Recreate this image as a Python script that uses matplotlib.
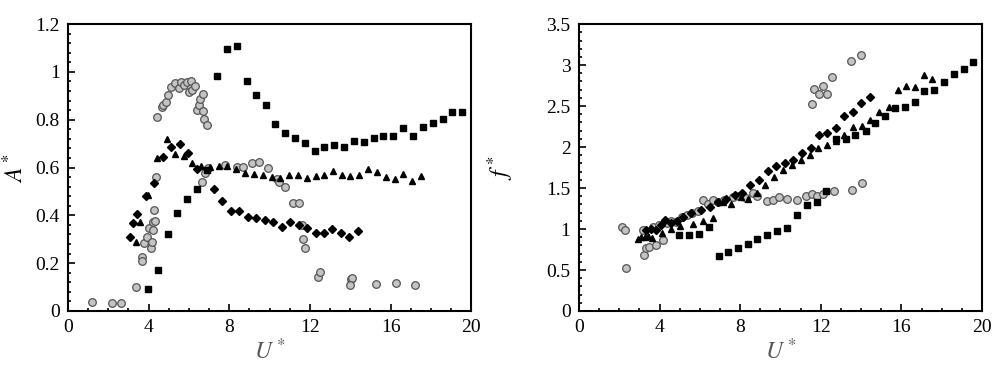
import matplotlib
matplotlib.use("Agg")
import matplotlib.pyplot as plt
from matplotlib.ticker import MultipleLocator, FuncFormatter

plt.rcParams["font.family"] = ["Liberation Serif", "DejaVu Serif"]
plt.rcParams["mathtext.fontset"] = "stix"

# ---- amplitude A* vs U* ----
sq_u = [3.98, 4.47, 4.94, 5.43, 5.92, 6.40, 6.88, 7.37, 7.87, 8.37, 8.86, 9.33, 9.81,
        10.29, 10.77, 11.25, 11.75, 12.23, 12.71, 13.21, 13.69, 14.18, 14.66, 15.16,
        15.64, 16.14, 16.62, 17.12, 17.60, 18.09, 18.58, 19.07, 19.54]
sq_a = [0.092, 0.171, 0.32, 0.41, 0.47, 0.51, 0.59, 0.983, 1.094, 1.108, 0.964, 0.905,
        0.863, 0.782, 0.744, 0.725, 0.702, 0.669, 0.686, 0.694, 0.688, 0.711, 0.707,
        0.723, 0.732, 0.732, 0.767, 0.733, 0.771, 0.785, 0.804, 0.832, 0.832]

tr_u = [3.36, 3.57, 3.95, 4.42, 4.89, 5.31, 5.76, 6.17, 6.60, 7.05, 7.48, 7.87, 8.34,
        8.78, 9.23, 9.66, 10.10, 10.52, 10.98, 11.41, 11.85, 12.28, 12.70, 13.14,
        13.58, 14.00, 14.44, 14.87, 15.32, 15.75, 16.20, 16.64, 17.07, 17.50]
tr_a = [0.289, 0.374, 0.485, 0.641, 0.719, 0.657, 0.65, 0.62, 0.607, 0.603, 0.608,
        0.607, 0.593, 0.579, 0.572, 0.568, 0.562, 0.558, 0.57, 0.57, 0.556, 0.565,
        0.568, 0.587, 0.57, 0.565, 0.57, 0.594, 0.582, 0.562, 0.552, 0.572, 0.544, 0.565]

di_u = [3.05, 3.24, 3.44, 3.86, 4.29, 4.70, 5.13, 5.55, 5.96, 6.39, 7.25, 7.66, 8.07,
        8.50, 8.92, 9.35, 9.76, 10.19, 10.60, 11.03, 11.45, 11.88, 12.29, 12.70,
        13.12, 13.55, 13.96, 14.39]
di_a = [0.31, 0.366, 0.407, 0.48, 0.534, 0.646, 0.687, 0.70, 0.66, 0.592, 0.509,
        0.462, 0.417, 0.417, 0.392, 0.389, 0.381, 0.374, 0.353, 0.374, 0.358, 0.349,
        0.328, 0.328, 0.343, 0.328, 0.311, 0.333]

ci_u = [1.21, 2.20, 2.62, 3.35, 3.68, 3.65, 3.78, 3.94, 4.01, 4.11, 4.19, 4.21, 4.24,
        4.27, 4.32, 4.34, 4.39, 4.64, 4.69, 4.84, 4.97, 5.12, 5.32, 5.52, 5.62, 5.77,
        5.88, 6.01, 6.08, 6.16, 6.31, 6.38, 6.48, 6.56, 6.68, 6.69, 6.74, 6.88, 6.66,
        6.79, 6.96, 7.80, 8.40, 8.70, 9.13, 9.46, 9.91, 10.36, 10.49, 10.74, 11.15,
        11.45, 11.62, 11.65, 11.78, 12.38, 12.51, 14.02, 14.08, 14.00, 15.28, 16.27,
        17.20]
ci_a = [0.038, 0.032, 0.032, 0.099, 0.227, 0.209, 0.283, 0.308, 0.348, 0.262, 0.29,
        0.374, 0.339, 0.422, 0.376, 0.562, 0.81, 0.852, 0.861, 0.875, 0.902, 0.935,
        0.952, 0.931, 0.959, 0.945, 0.959, 0.917, 0.963, 0.924, 0.941, 0.84, 0.861,
        0.886, 0.906, 0.836, 0.801, 0.778, 0.541, 0.576, 0.597, 0.612, 0.603, 0.603,
        0.62, 0.622, 0.597, 0.552, 0.541, 0.517, 0.45, 0.45, 0.36, 0.30, 0.262, 0.144,
        0.162, 0.132, 0.139, 0.109, 0.111, 0.116, 0.107]

# ---- frequency f* vs U* ----
fsq_u = [4.97, 5.47, 5.95, 6.43, 6.93, 7.41, 7.89, 8.37, 8.85, 9.35, 9.83, 10.32,
         10.82, 11.30, 11.80, 12.26, 12.76, 13.24, 13.72, 14.22, 14.70, 15.19, 15.68,
         16.17, 16.65, 17.13, 17.61, 18.10, 18.59, 19.09, 19.55]
fsq_f = [0.927, 0.931, 0.939, 1.028, 0.675, 0.724, 0.772, 0.821, 0.874, 0.923, 0.972,
         1.016, 1.171, 1.293, 1.325, 1.467, 2.093, 2.093, 2.15, 2.2, 2.297, 2.382,
         2.48, 2.484, 2.553, 2.683, 2.695, 2.797, 2.89, 2.951, 3.037]

ftr_u = [2.95, 3.10, 3.26, 3.45, 3.62, 4.10, 4.55, 5.00, 5.67, 6.15, 6.63, 7.16, 7.55,
         8.02, 8.40, 8.82, 9.25, 9.68, 10.14, 10.58, 11.00, 11.47, 11.88, 12.29, 12.73,
         13.16, 13.62, 14.03, 14.45, 14.91, 15.38, 15.81, 16.24, 16.67, 17.10, 17.53]
ftr_f = [0.88, 0.90, 0.898, 0.91, 0.89, 0.95, 1.0, 1.04, 1.061, 1.10, 1.13, 1.33, 1.30,
         1.394, 1.37, 1.443, 1.537, 1.638, 1.72, 1.78, 1.841, 1.902, 1.984, 2.024,
         2.08, 2.146, 2.248, 2.256, 2.329, 2.431, 2.484, 2.695, 2.744, 2.728, 2.878,
         2.829]

fdi_u = [3.35, 3.60, 3.84, 4.05, 4.26, 4.55, 4.85, 5.17, 5.58, 6.08, 6.50, 6.91, 7.32,
         7.74, 8.07, 8.48, 8.95, 9.38, 9.78, 10.21, 10.64, 11.07, 11.50, 11.91, 12.31,
         12.76, 13.17, 13.59, 14.00, 14.42]
fdi_f = [0.988, 1.0, 0.988, 1.05, 1.11, 1.07, 1.10, 1.15, 1.191, 1.232, 1.272, 1.333,
         1.362, 1.415, 1.443, 1.537, 1.598, 1.711, 1.768, 1.801, 1.841, 1.923, 1.992,
         2.146, 2.175, 2.236, 2.378, 2.431, 2.533, 2.614]

fci_u = [2.15, 2.27, 2.35, 3.18, 3.25, 3.35, 3.50, 3.68, 3.84, 3.95, 4.18, 4.35, 4.55,
         4.80, 5.09, 5.35, 5.60, 5.90, 6.16, 6.40, 6.66, 6.90, 7.20, 7.66, 7.95, 8.30,
         8.65, 8.85, 9.35, 9.64, 9.94, 10.30, 10.80, 11.27, 11.55, 11.80, 12.13, 12.63,
         13.54, 14.05, 11.57, 11.65, 11.93, 12.10, 12.30, 12.56, 13.50, 14.00]
fci_f = [1.028, 0.988, 0.52, 0.988, 0.683, 0.764, 0.78, 1.028, 0.805, 1.05, 0.866,
         1.069, 1.10, 1.08, 1.15, 1.17, 1.19, 1.22, 1.354, 1.30, 1.354, 1.33, 1.36,
         1.394, 1.40, 1.38, 1.435, 1.40, 1.341, 1.354, 1.394, 1.362, 1.354, 1.402,
         1.423, 1.402, 1.423, 1.467, 1.476, 1.557, 2.52, 2.703, 2.646, 2.744, 2.646,
         2.85, 3.049, 3.118]

fig = plt.figure(figsize=(9.93, 3.75), dpi=100)
ax1 = fig.add_axes([0.0685, 0.1707, 0.406, 0.765])
ax2 = fig.add_axes([0.583, 0.1707, 0.406, 0.765])

circ = dict(marker="o", ls="none", ms=5.5, mfc="#c4c4c4", mec="#555555", mew=0.9)
sq = dict(marker="s", ls="none", ms=5, color="black")
tri = dict(marker="^", ls="none", ms=5, color="black")
dia = dict(marker="D", ls="none", ms=4, color="black")

ax1.plot(ci_u, ci_a, **circ)
ax1.plot(sq_u, sq_a, **sq)
ax1.plot(tr_u, tr_a, **tri)
ax1.plot(di_u, di_a, **dia)

ax2.plot(fci_u, fci_f, **circ)
ax2.plot(fsq_u, fsq_f, **sq)
ax2.plot(ftr_u, ftr_f, **tri)
ax2.plot(fdi_u, fdi_f, **dia)

fmt = FuncFormatter(lambda v, p: f"{v:g}")

for ax, ymax, ymaj, ymin in [(ax1, 1.2, 0.2, 0.04), (ax2, 3.5, 0.5, 0.1)]:
    ax.set_xlim(0, 20)
    ax.set_ylim(0, ymax)
    ax.xaxis.set_major_locator(MultipleLocator(4))
    ax.xaxis.set_minor_locator(MultipleLocator(1))
    ax.yaxis.set_major_locator(MultipleLocator(ymaj))
    ax.yaxis.set_minor_locator(MultipleLocator(ymin))
    ax.yaxis.set_major_formatter(fmt)
    ax.tick_params(which="both", direction="in", top=False, right=False,
                   labelsize=14, width=1.2)
    ax.tick_params(which="major", length=5, pad=6)
    ax.tick_params(which="minor", length=2.5)
    for s in ax.spines.values():
        s.set_linewidth(1.5)
    ax.set_xlabel("$U^*$", fontsize=17, color="#555555", labelpad=2)

ax1.set_ylabel("$A^*$", fontsize=17)
ax1.yaxis.set_label_coords(-0.1, 0.5)
ax2.set_ylabel("$f^*$", fontsize=17)
ax2.yaxis.set_label_coords(-0.155, 0.5)

fig.savefig("out.png", dpi=100)
